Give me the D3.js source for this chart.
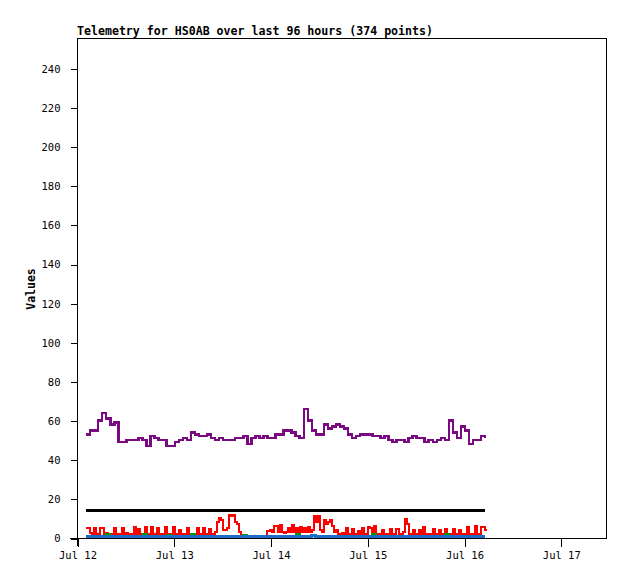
<!DOCTYPE html>
<html>
<head>
<meta charset="utf-8">
<script src="https://cdn.jsdelivr.net/npm/d3@7"></script>
<style>
  html, body { margin: 0; padding: 0; background: #fff; }
  svg { display: block; }
</style>
</head>
<body>
<svg id="chart" width="618" height="579"></svg>
<script>
// ---- data ----
const titleText = "Telemetry for HS0AB over last 96 hours (374 points)";
const yLabel = "Values";
const xTickDates = ["2024-07-12", "2024-07-13", "2024-07-14", "2024-07-15", "2024-07-16", "2024-07-17"];
const yTicks = [0, 20, 40, 60, 80, 100, 120, 140, 160, 180, 200, 220, 240];
const sampleStart = "2024-07-12T02:15:00";
const sampleStepHours = 1;     // purple / green / blue sampling
const redStepHours = 0.5;      // red sampling

const purpleValues = [53,55,55,60,64,61,58,59,49,49,50,50,50,51,50,47,52,51,50,50,
  47,47,49,50,51,50,54,53,52,52,53,51,50,51,50,50,50,51,51,52,
  48,51,52,51,52,51,51,53,53,55,55,54,52,51,66,60,55,53,53,58,
  56,57,58,57,56,53,51,52,53,53,53,52,52,51,52,50,49,50,50,49,
  51,52,51,51,49,50,49,50,51,50,60,54,51,57,55,48,50,50,52,51];
const redValues = [5,5,2.5,2,5,2,2,5,5,2, 2.5,2,2,2,5,2,2,2,5,2,
  2.5,2,2,2,5.5,2,4.5,2,2,5.5, 2,2,5.5,2,2,5,2,2,2,5.5,
  2,2,2,5.5,2,2,4,2,2,2, 5,2,2,2,2,5,2,2,5,2,
  2,4.5,2,2,3,8,10,9,4,4, 5,12,11,12,8,7,3,1,1,1,
  1,1,1,1,1,1,1,1,1,1, 3.5,4,3,6,6,3,6.5,3,2.5,3,
  5,3,6.5,3,5,2.5,5.5,3,5,3, 5.5,3,4,11,8,11,4,3,9,7,
  8,9,6,3,4,2,2,2.5,2,5, 2,2,4.5,2,2,3.5,2,5,2,2,
  5.5,5,2,6,2,2,2,4,2,2, 2,4.5,2,2,4.5,2,2,3,9.5,7,
  2,2,4,2,2,4,2,5.5,2,2, 2,2,4.5,2,2,4,2,2,4.5,2,
  2,2,4.5,2,2,4,2,2,2,5.5, 2,2,2,6,2,2,5.5,5.5,4,4];
const greenValues = [0.6,0.6,0.6,0.6,0.6,2,0.6,0.6,0.6,0.6,0.6,0.6,0.6,0.6,2,0.6,0.6,0.6,0.6,0.6,
  1.5,0.6,0.6,0.6,0.6,0.6,2,0.6,0.6,0.6,0.6,0.6,0.6,0.6,0.6,0.6,0.6,0.6,0.6,1.5,
  0.6,0.6,0.6,0.6,0.6,0.6,0.6,0.6,0.6,0.6,0.6,0.6,2,0.6,0.6,0.6,1.5,0.6,0.6,0.6,
  0.6,0.6,0.6,0.6,0.6,0.6,0.6,0.6,0.6,0.6,0.6,2,0.6,0.6,0.6,0.6,0.6,0.6,0.6,0.6,
  0.6,0.6,0.6,0.6,0.6,0.6,0.6,0.6,0.6,2,0.6,0.6,0.6,0.6,0.6,0.6,0.6,0.6,0.6,0.6];
const blueValues = [0.6,0.6,0.6,0.6,0.6,0.6,0.6,0.6,0.6,0.6,0.6,0.6,0.6,0.6,0.6,0.6,0.6,0.6,0.6,0.6,
  0.6,0.6,0.6,0.6,0.6,0.6,0.6,0.6,0.6,0.6,0.6,0.6,0.6,0.6,0.6,0.6,0.6,0.6,0.6,0.6,
  0.6,0.6,0.6,0.6,0.6,0.6,0.6,0.6,0.6,0.6,0.6,0.6,0.6,0.6,0.6,0.6,1.2,0.6,0.6,0.6,
  0.6,0.6,0.6,0.6,0.6,0.6,0.6,0.6,0.6,0.6,0.6,0.6,0.6,0.6,0.6,0.6,0.6,0.6,0.6,0.6,
  0.6,0.6,0.6,0.6,0.6,0.6,0.6,0.6,0.6,0.6,0.6,0.6,0.6,0.6,0.6,0.6,0.6,0.6,0.6,0.6];
const thresholdValues = [14, 14];

// ---- layout ----
(function () {
const svg = d3.select("#chart");
const pLeft = 77, pRight = 606, pTop = 38, pBottom = 538;
const parse = d3.timeParse("%Y-%m-%dT%H:%M:%S");
const parseDay = d3.timeParse("%Y-%m-%d");
const t0 = parse(sampleStart);
const times = purpleValues.map((d, i) => d3.timeMinute.offset(t0, i * sampleStepHours * 60));
const redTimes = redValues.map((d, i) => d3.timeMinute.offset(t0, i * redStepHours * 60));
const tickDates = xTickDates.map(parseDay);

const x = d3.scaleTime()
  .domain([tickDates[0], d3.timeMinute.offset(tickDates[5], 673)])
  .range([pLeft, pRight]);
const y = d3.scaleLinear().domain([0, 255.5]).range([pBottom, pTop]);

// frame
svg.append("rect")
  .attr("x", pLeft + 0.5).attr("y", pTop + 0.5)
  .attr("width", pRight - pLeft).attr("height", pBottom - pTop)
  .attr("fill", "none").attr("stroke", "#000").attr("stroke-width", 1)
  .attr("shape-rendering", "crispEdges");

// axes
const yAxis = d3.axisLeft(y).tickValues(yTicks).tickSize(7).tickPadding(10);
const gy = svg.append("g").attr("transform", `translate(${pLeft + 0.5},0.5)`).call(yAxis);
const xAxis = d3.axisBottom(x).tickValues(tickDates).tickSize(8).tickPadding(5)
  .tickFormat(d3.timeFormat("%b %d"));
const gx = svg.append("g").attr("transform", `translate(0.5,${pBottom + 0.5})`).call(xAxis);
[gx, gy].forEach(g => {
  g.select(".domain").remove();
  g.selectAll("line").attr("stroke", "#000").attr("shape-rendering", "crispEdges");
  g.selectAll("text").attr("fill", "#000")
    .style("font-family", "'DejaVu Sans Mono', monospace").style("font-size", "10.5px");
});
svg.append("line").attr("x1", 70).attr("x2", pRight).attr("y1", pBottom + 0.5).attr("y2", pBottom + 0.5)
  .attr("stroke", "#000").attr("shape-rendering", "crispEdges");
svg.append("line").attr("x1", pLeft + 0.5).attr("x2", pLeft + 0.5).attr("y1", pTop).attr("y2", pBottom + 8)
  .attr("stroke", "#000").attr("shape-rendering", "crispEdges");

// series
function drawSeries(vals, ts, color, w) {
  const line = d3.line().x((d, i) => x(ts[i])).y(d => y(d)).curve(d3.curveStepAfter);
  svg.append("path").datum(vals)
    .attr("d", line)
    .attr("fill", "none").attr("stroke", color).attr("stroke-width", w)
    .attr("shape-rendering", "crispEdges");
}
drawSeries(redValues, redTimes, "#ff0000", 2);
drawSeries(greenValues, times, "#00a000", 2);
drawSeries(blueValues, times, "#1a6cc8", 3);
drawSeries(purpleValues, times, "#7a0a82", 2.5);

// threshold line
svg.append("path").datum(thresholdValues)
  .attr("d", d3.line().x((d, i) => x(i === 0 ? times[0] : times[times.length - 1])).y(d => y(d)))
  .attr("fill", "none").attr("stroke", "#000").attr("stroke-width", 3)
  .attr("shape-rendering", "crispEdges");

// title
svg.append("text").attr("x", pLeft).attr("y", 35)
  .attr("textLength", 356).attr("lengthAdjust", "spacingAndGlyphs")
  .text(titleText)
  .style("font-family", "'DejaVu Sans Mono', monospace")
  .style("font-weight", "bold").style("font-size", "12px");

// y label
svg.append("text")
  .attr("transform", `translate(35,${(pTop + pBottom) / 2 + 1}) rotate(-90)`)
  .attr("text-anchor", "middle")
  .text(yLabel)
  .style("font-family", "'DejaVu Sans Mono', monospace")
  .style("font-weight", "bold").style("font-size", "11.5px");
})();
</script>
</body>
</html>
